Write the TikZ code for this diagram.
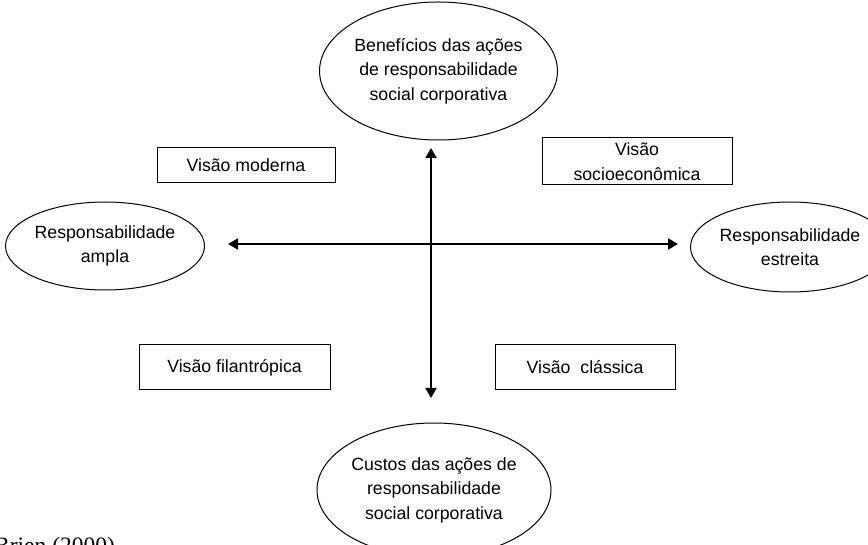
\documentclass[tikz,border=0pt]{standalone}
\usepackage{fontspec}
\setmainfont{Liberation Sans}
\newfontfamily\srcfont{Liberation Serif}
\usetikzlibrary{shapes.geometric,arrows.meta}

\begin{document}
\begin{tikzpicture}[x=1pt,y=-1pt,
    font=\fontsize{17.7}{24.5}\selectfont,
    oval/.style={draw, ellipse, inner sep=0pt, align=center, line width=1pt},
    caixa/.style={draw, rectangle, inner sep=0pt, align=center, line width=1pt},
    eixo/.style={line width=2pt, {Triangle[length=10pt,width=11pt]}-{Triangle[length=10pt,width=11pt]}}]
  \useasboundingbox (0,0) rectangle (868,545);
  \clip (0,0) rectangle (868,545);
  \node (ben) [oval, minimum width=227, minimum height=138] at (438.5,71) {Benefícios das ações\\de responsabilidade\\social corporativa};
  \node (cus) [oval, minimum width=234, minimum height=134] at (434,490) {Custos das ações de\\responsabilidade\\social corporativa};
  \node (amp) [oval, minimum width=184, minimum height=88] at (105,246) {Responsabilidade\\ampla};
  \node (est) [oval, minimum width=180, minimum height=90] at (790,247) {Responsabilidade\\estreita};
  \node (mod) [caixa, minimum width=178, minimum height=35] at (246,165.5) {Visão moderna};
  \node (soc) [caixa, minimum width=190, minimum height=47] at (637,161.5) {Visão\\socioeconômica};
  \node (fil) [caixa, minimum width=191, minimum height=45] at (234.5,367.5) {Visão filantrópica};
  \node (cla) [caixa, minimum width=180, minimum height=45] at (585,367.5) {Visão\ \ clássica};
  \coordinate (w) at (228,244);
  \coordinate (e) at (678,244);
  \coordinate (n) at (431,148);
  \coordinate (s) at (431,398);
  \draw [eixo] (w) -- (e);
  \draw [eixo] (n) -- (s);
  \node (fonte) [font=\srcfont\fontsize{23.5}{26}\selectfont, anchor=base west, inner sep=0pt] at (-6,553) {Brien (2000)};
\end{tikzpicture}
\end{document}
